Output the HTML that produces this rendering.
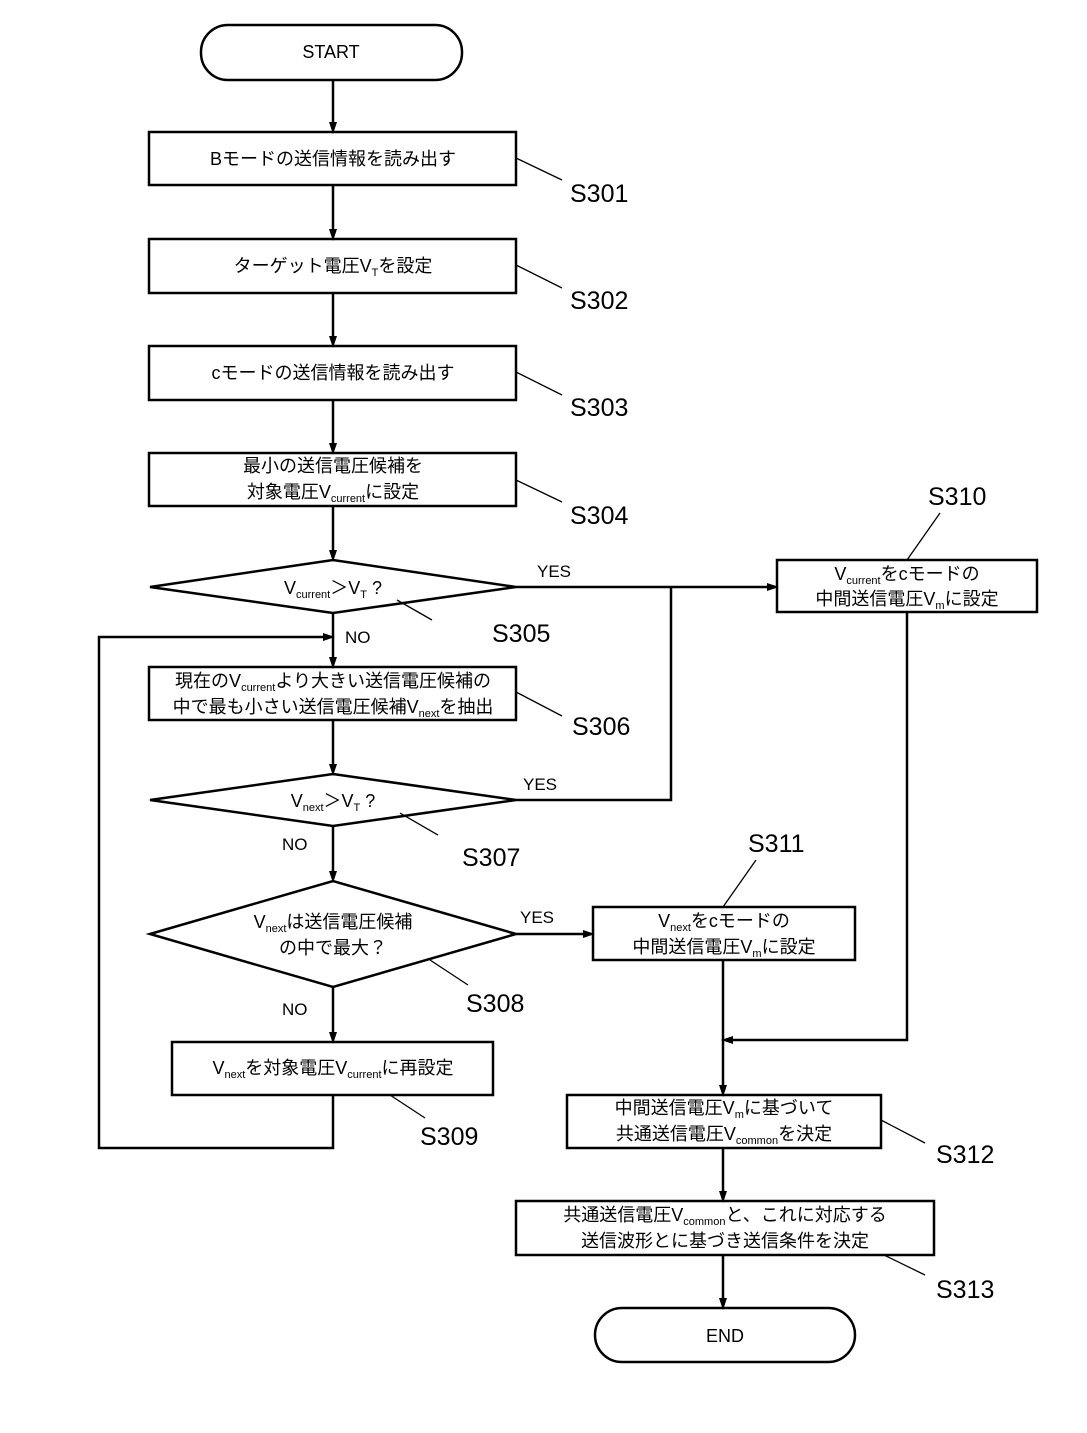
<!DOCTYPE html>
<html><head><meta charset="utf-8"><style>
html,body{margin:0;padding:0;background:#fff;}
svg{display:block;}
text{font-family:"Liberation Sans","Noto Sans CJK JP",sans-serif;fill:#000;}
.t{font-size:18px;text-anchor:middle;}
.s{font-size:11px;}
.l{font-size:25px;}
.y{font-size:17px;}
</style></head><body>
<svg width="1087" height="1433" viewBox="0 0 1087 1433" xmlns="http://www.w3.org/2000/svg">
<defs>
<marker id="a" markerWidth="12" markerHeight="18" refX="12" refY="6" orient="auto" markerUnits="userSpaceOnUse" viewBox="0 0 18 12">
<path d="M0,0 L18,6 L0,12 z" fill="#000"/>
</marker>
</defs>
<g fill="none" stroke="#000" stroke-width="2.5">
<rect x="201" y="25" width="261" height="55" rx="27"/>
<rect x="149" y="132" width="367" height="53"/>
<rect x="149" y="239" width="367" height="54"/>
<rect x="149" y="346" width="367" height="54"/>
<rect x="149" y="453" width="367" height="53"/>
<polygon points="150,587 333,560 516,587 333,613"/>
<rect x="149" y="667" width="367" height="53"/>
<polygon points="150,800 333,774 516,800 333,826"/>
<polygon points="150,934 333,881 516,934 333,987"/>
<rect x="172" y="1042" width="321" height="53"/>
<rect x="777" y="560" width="260" height="52"/>
<rect x="593" y="907" width="262" height="53"/>
<rect x="567" y="1095" width="314" height="53"/>
<rect x="516" y="1201" width="418" height="54"/>
<rect x="595" y="1308" width="260" height="54" rx="27"/>
</g>
<g fill="none" stroke="#000" stroke-width="2.5">
<line x1="333" y1="80" x2="333" y2="130" marker-end="url(#a)"/>
<line x1="333" y1="185" x2="333" y2="237" marker-end="url(#a)"/>
<line x1="333" y1="293" x2="333" y2="344" marker-end="url(#a)"/>
<line x1="333" y1="400" x2="333" y2="451" marker-end="url(#a)"/>
<line x1="333" y1="506" x2="333" y2="558" marker-end="url(#a)"/>
<line x1="333" y1="613" x2="333" y2="665" marker-end="url(#a)"/>
<line x1="333" y1="720" x2="333" y2="772" marker-end="url(#a)"/>
<line x1="333" y1="826" x2="333" y2="879" marker-end="url(#a)"/>
<line x1="333" y1="987" x2="333" y2="1040" marker-end="url(#a)"/>
<polyline points="333,1095 333,1148 99,1148 99,637 331,637" marker-end="url(#a)"/>
<line x1="516" y1="587" x2="775" y2="587" marker-end="url(#a)"/>
<polyline points="516,800 671,800 671,587"/>
<line x1="516" y1="934" x2="591" y2="934" marker-end="url(#a)"/>
<polyline points="907,612 907,1040 725,1040" marker-end="url(#a)"/>
<line x1="723" y1="960" x2="723" y2="1093" marker-end="url(#a)"/>
<line x1="723" y1="1148" x2="723" y2="1199" marker-end="url(#a)"/>
<line x1="723" y1="1255" x2="723" y2="1306" marker-end="url(#a)"/>
</g>
<g stroke="#000" stroke-width="1.3">
<line x1="516" y1="158" x2="562" y2="180"/>
<line x1="516" y1="265" x2="562" y2="288"/>
<line x1="516" y1="372" x2="562" y2="395"/>
<line x1="516" y1="480" x2="562" y2="502"/>
<line x1="397" y1="600" x2="432" y2="620"/>
<line x1="516" y1="692" x2="562" y2="716"/>
<line x1="400" y1="813" x2="438" y2="835"/>
<line x1="430" y1="960" x2="468" y2="985"/>
<line x1="390" y1="1095" x2="425" y2="1118"/>
<line x1="907" y1="560" x2="940" y2="513"/>
<line x1="756" y1="860" x2="723" y2="907"/>
<line x1="881" y1="1120" x2="925" y2="1143"/>
<line x1="884" y1="1255" x2="925" y2="1275"/>
</g>
<text class="t" x="331" y="58">START</text>
<text class="t" x="333" y="165">Bモードの送信情報を読み出す</text>
<text class="t" x="333" y="272">ターゲット電圧V<tspan class="s" dy="4">T</tspan><tspan dy="-4">を設定</tspan></text>
<text class="t" x="333" y="379">cモードの送信情報を読み出す</text>
<text class="t" x="333" y="472">最小の送信電圧候補を</text>
<text class="t" x="333" y="498">対象電圧V<tspan class="s" dy="4">current</tspan><tspan dy="-4">に設定</tspan></text>
<text class="t" x="333" y="594">V<tspan class="s" dy="4">current</tspan><tspan dy="-4">＞V</tspan><tspan class="s" dy="4">T</tspan><tspan dy="-4"> ?</tspan></text>
<text class="t" x="333" y="687">現在のV<tspan class="s" dy="4">current</tspan><tspan dy="-4">より大きい送信電圧候補の</tspan></text>
<text class="t" x="333" y="713">中で最も小さい送信電圧候補V<tspan class="s" dy="4">next</tspan><tspan dy="-4">を抽出</tspan></text>
<text class="t" x="333" y="807">V<tspan class="s" dy="4">next</tspan><tspan dy="-4">＞V</tspan><tspan class="s" dy="4">T</tspan><tspan dy="-4"> ?</tspan></text>
<text class="t" x="333" y="928">V<tspan class="s" dy="4">next</tspan><tspan dy="-4">は送信電圧候補</tspan></text>
<text class="t" x="333" y="954">の中で最大？</text>
<text class="t" x="333" y="1074">V<tspan class="s" dy="4">next</tspan><tspan dy="-4">を対象電圧V</tspan><tspan class="s" dy="4">current</tspan><tspan dy="-4">に再設定</tspan></text>
<text class="t" x="907" y="580">V<tspan class="s" dy="4">current</tspan><tspan dy="-4">をcモードの</tspan></text>
<text class="t" x="907" y="605">中間送信電圧V<tspan class="s" dy="4">m</tspan><tspan dy="-4">に設定</tspan></text>
<text class="t" x="724" y="927">V<tspan class="s" dy="4">next</tspan><tspan dy="-4">をcモードの</tspan></text>
<text class="t" x="724" y="953">中間送信電圧V<tspan class="s" dy="4">m</tspan><tspan dy="-4">に設定</tspan></text>
<text class="t" x="724" y="1114">中間送信電圧V<tspan class="s" dy="4">m</tspan><tspan dy="-4">に基づいて</tspan></text>
<text class="t" x="724" y="1140">共通送信電圧V<tspan class="s" dy="4">common</tspan><tspan dy="-4">を決定</tspan></text>
<text class="t" x="725" y="1221">共通送信電圧V<tspan class="s" dy="4">common</tspan><tspan dy="-4">と、これに対応する</tspan></text>
<text class="t" x="725" y="1247">送信波形とに基づき送信条件を決定</text>
<text class="t" x="725" y="1342">END</text>
<text class="y" x="537" y="577">YES</text>
<text class="y" x="345" y="643">NO</text>
<text class="y" x="523" y="790">YES</text>
<text class="y" x="282" y="850">NO</text>
<text class="y" x="520" y="923">YES</text>
<text class="y" x="282" y="1015">NO</text>
<text class="l" x="570" y="202">S301</text>
<text class="l" x="570" y="309">S302</text>
<text class="l" x="570" y="416">S303</text>
<text class="l" x="570" y="524">S304</text>
<text class="l" x="492" y="642">S305</text>
<text class="l" x="572" y="735">S306</text>
<text class="l" x="462" y="866">S307</text>
<text class="l" x="466" y="1012">S308</text>
<text class="l" x="420" y="1145">S309</text>
<text class="l" x="928" y="505">S310</text>
<text class="l" x="748" y="852">S311</text>
<text class="l" x="936" y="1163">S312</text>
<text class="l" x="936" y="1298">S313</text>
</svg>
</body></html>
